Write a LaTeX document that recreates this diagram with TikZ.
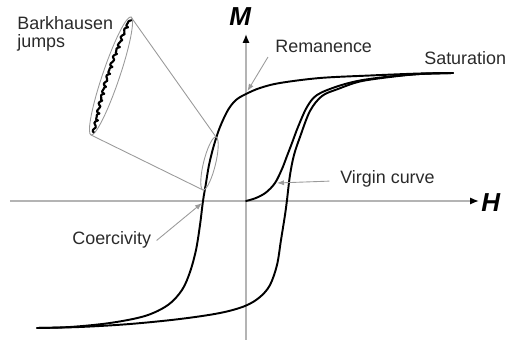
\documentclass[tikz,border=0pt]{standalone}
\usepackage{fontspec}
\setmainfont{Liberation Sans}
\usetikzlibrary{arrows.meta}
\definecolor{axisgray}{HTML}{B4B4B4}
\definecolor{leadgray}{HTML}{9A9A9A}
\definecolor{textgray}{HTML}{2A2A2A}
\begin{document}
\begin{tikzpicture}[x=0.02cm,y=-0.02cm,
  curve/.style={line width=1.1pt, black, line join=round, line cap=round},
  axisline/.style={draw=axisgray, line width=0.85pt, -{Latex[length=5pt,width=4pt,color=black]}},
  leader/.style={draw=leadgray, line width=0.5pt},
  leaderarrow/.style={leader, -{Latex[length=4pt,width=3pt]}},
  lbl/.style={inner sep=0pt, text=textgray, font=\fontsize{10.2}{10.8}\selectfont},
  axislbl/.style={inner sep=0pt, text=black, font=\fontsize{14.8}{16}\selectfont\bfseries\itshape}]
\useasboundingbox (0,0) rectangle (505,340);

% axes
\coordinate (hstart) at (10,201);
\coordinate (hend) at (479,201);
\coordinate (vstart) at (246,340);
\coordinate (vend) at (246,34);
\draw[axisline] (hstart) -- (hend);
\draw[axisline] (vstart) -- (vend);
\node[axislbl, anchor=base west] (Mlab) at (229,26) {M};
\node[axislbl, anchor=base west] (Hlab) at (481,212) {H};

% hysteresis loop
\draw[curve] plot[smooth, tension=0.55] coordinates {
 (453,73) (420,73.5) (370,75.5) (320,78) (280,83) (260,88) (246,94) (236,100)
 (228,110) (220,127) (214,145) (209,165) (206,183) (203,201) (200,225) (196,250)
 (190,272) (182,290) (168,305) (145,316) (110,323) (70,327) (37,328)};
\draw[curve] plot[smooth, tension=0.55] coordinates {
 (37,328) (80,327) (130,324) (180,319) (220,313) (245,306) (260,297) (270,285)
 (277,265) (281,240) (285,215) (287,200) (290,175) (294,155) (300,137) (310,111)
 (322,96) (338,89) (360,81.5) (390,77) (420,74) (453,73)};
% virgin curve
\draw[curve] plot[smooth, tension=0.55] coordinates {
 (246,201) (256,198) (266,192.5) (275,183) (282,169) (287,156) (292,143) (298,127)
 (307,107) (317,95) (337,86.5) (360,80.5) (390,76.5) (420,74) (453,73)};

% Barkhausen inset
\draw[leadgray, line width=0.5pt] plot[smooth cycle, domain=0:350, samples=36]
  ({111+20*cos(\x)+8.05*sin(\x)}, {76-59*cos(\x)+2.73*sin(\x)});
\draw[leadgray, line width=0.5pt] plot[smooth cycle, domain=0:350, samples=36]
  ({209.5+6.5*cos(\x)+5.83*sin(\x)}, {163.5-26.5*cos(\x)+1.43*sin(\x)});
\coordinate (bigtop) at (131,17);
\coordinate (bigbot) at (91,135);
\coordinate (smalltop) at (216,137);
\coordinate (smallbot) at (203,190);
\draw[leader] (bigtop) -- (smalltop);
\draw[leader] (bigbot) -- (smallbot);
\draw[black, line width=1.2pt, line join=round] plot[domain=0:1, samples=120]
  ({130-36*\x-4*sin(180*\x)+1.1*sin(17*360*\x)+0.6*sin(29*360*\x+40)}, {19+113*\x+0.8*cos(17*360*\x)});

% labels
\node[lbl, anchor=base west, align=left] (bark) at (17,48) {Barkhausen\\jumps};
\node[lbl, anchor=base west] (remlab) at (275,53) {Remanence};
\node[lbl, anchor=base west] (satlab) at (424,65) {Saturation};
\node[lbl, anchor=base west] (virlab) at (340,184) {Virgin curve};
\node[lbl, anchor=base west] (coelab) at (72,245) {Coercivity};

% leaders
\coordinate (rem) at (247.5,91);
\coordinate (vir) at (277,183);
\coordinate (coe) at (202,203);
\draw[leaderarrow] ([xshift=-4, yshift=-2]remlab.south west) -- (rem);
\draw[leaderarrow] ([xshift=-6, yshift=-1]virlab.west) -- (vir);
\draw[leaderarrow] ([xshift=3, yshift=-5]coelab.north east) -- (coe);
\end{tikzpicture}
\end{document}
